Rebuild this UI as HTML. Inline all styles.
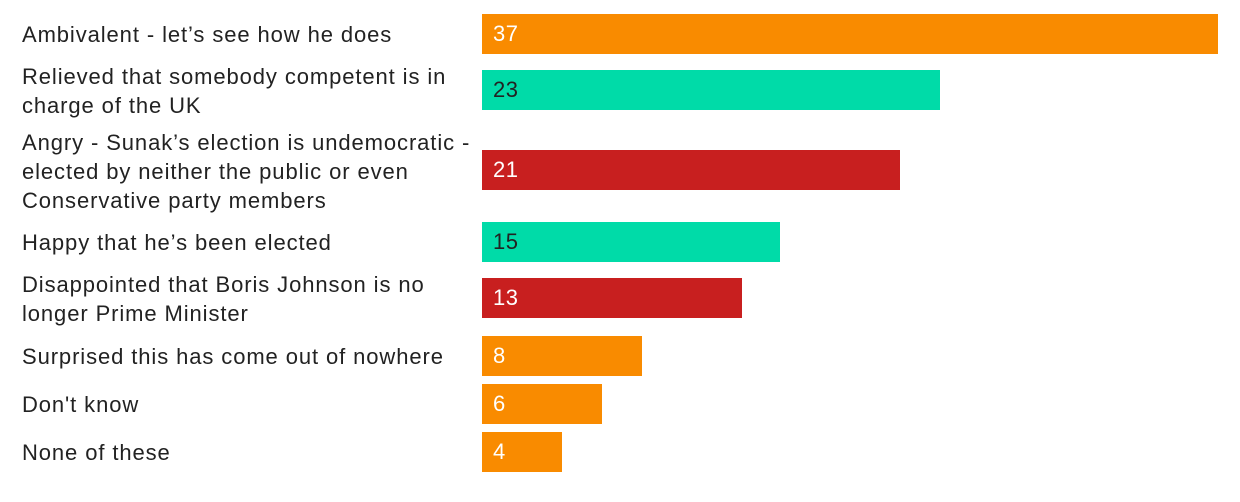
<!DOCTYPE html>
<html><head><style>
body{margin:0;width:1240px;height:502px;background:#fff;position:relative;font-family:"Liberation Sans",Arial,sans-serif;overflow:hidden}
.l{position:absolute;left:22px;font-size:22px;letter-spacing:0.9px;color:#222;line-height:29px;white-space:nowrap}
.b{position:absolute;left:482px;height:40px;font-size:22px;line-height:40px;padding-left:11px;box-sizing:border-box;color:#fff;letter-spacing:0.5px}
.o{background:#F98B00}.t{background:#00DBA8;color:#222}.r{background:#C81F1F}
</style></head><body>
<div class="l" style="top:20px">Ambivalent - let’s see how he does</div>
<div class="l" style="top:62px">Relieved that somebody competent is in<br>charge of the UK</div>
<div class="l" style="top:128px">Angry - Sunak’s election is undemocratic -<br>elected by neither the public or even<br>Conservative party members</div>
<div class="l" style="top:228px">Happy that he’s been elected</div>
<div class="l" style="top:270px">Disappointed that Boris Johnson is no<br>longer Prime Minister</div>
<div class="l" style="top:342px">Surprised this has come out of nowhere</div>
<div class="l" style="top:390px">Don't know</div>
<div class="l" style="top:438px">None of these</div>
<div class="b o" style="top:14px;width:736px">37</div>
<div class="b t" style="top:70px;width:458px">23</div>
<div class="b r" style="top:150px;width:418px">21</div>
<div class="b t" style="top:222px;width:298px">15</div>
<div class="b r" style="top:278px;width:260px">13</div>
<div class="b o" style="top:336px;width:160px">8</div>
<div class="b o" style="top:384px;width:120px">6</div>
<div class="b o" style="top:432px;width:80px">4</div>
</body></html>
